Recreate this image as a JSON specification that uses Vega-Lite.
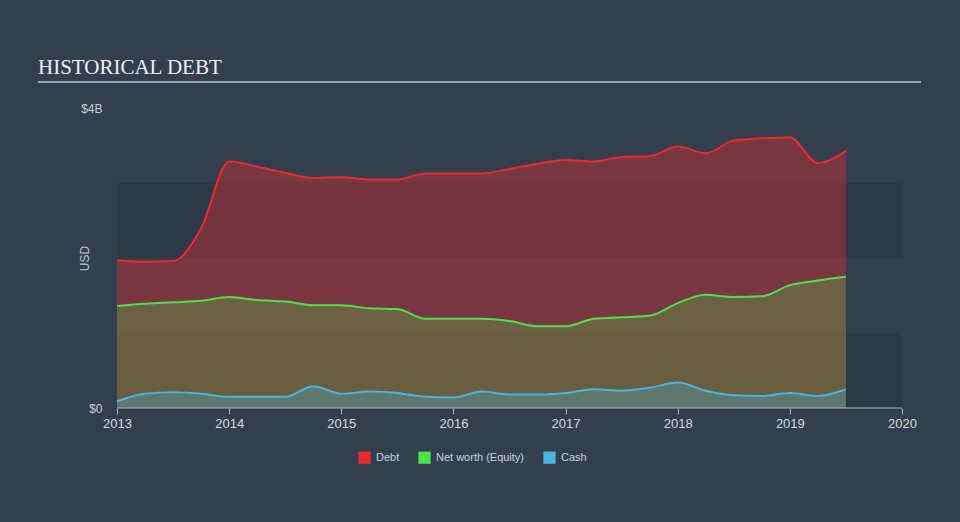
{
  "$schema": "https://vega.github.io/schema/vega-lite/v6.json",
  "width": 883,
  "height": 326,
  "autosize": {"type": "none"},
  "padding": {"left": 38, "top": 82, "right": 39, "bottom": 114},
  "background": "#333f4f",
  "config": {
    "view": {"stroke": null},
    "font": "Liberation Sans",
    "axis": {"grid": false}
  },
  "title": {
    "text": "HISTORICAL DEBT",
    "anchor": "start",
    "frame": "group",
    "font": "Liberation Serif",
    "fontSize": 21,
    "fontWeight": "normal",
    "color": "#eef0f2",
    "baseline": "alphabetic",
    "offset": -14
  },
  "datasets": {
    "fin": [
      {"t": 2013.0, "s": "Debt", "v": 1.97},
      {"t": 2013.25, "s": "Debt", "v": 1.95},
      {"t": 2013.5, "s": "Debt", "v": 1.96},
      {"t": 2013.75, "s": "Debt", "v": 2.4},
      {"t": 2014.0, "s": "Debt", "v": 3.29},
      {"t": 2014.25, "s": "Debt", "v": 3.22},
      {"t": 2014.5, "s": "Debt", "v": 3.14},
      {"t": 2014.75, "s": "Debt", "v": 3.07},
      {"t": 2015.0, "s": "Debt", "v": 3.08},
      {"t": 2015.25, "s": "Debt", "v": 3.05},
      {"t": 2015.5, "s": "Debt", "v": 3.05},
      {"t": 2015.75, "s": "Debt", "v": 3.13},
      {"t": 2016.0, "s": "Debt", "v": 3.13},
      {"t": 2016.25, "s": "Debt", "v": 3.13},
      {"t": 2016.5, "s": "Debt", "v": 3.19},
      {"t": 2016.75, "s": "Debt", "v": 3.26},
      {"t": 2017.0, "s": "Debt", "v": 3.31},
      {"t": 2017.25, "s": "Debt", "v": 3.29},
      {"t": 2017.5, "s": "Debt", "v": 3.35},
      {"t": 2017.75, "s": "Debt", "v": 3.36},
      {"t": 2018.0, "s": "Debt", "v": 3.49},
      {"t": 2018.25, "s": "Debt", "v": 3.40},
      {"t": 2018.5, "s": "Debt", "v": 3.57},
      {"t": 2018.75, "s": "Debt", "v": 3.60},
      {"t": 2019.0, "s": "Debt", "v": 3.61},
      {"t": 2019.25, "s": "Debt", "v": 3.27},
      {"t": 2019.5, "s": "Debt", "v": 3.43},
      {"t": 2013.0, "s": "Net worth (Equity)", "v": 1.36},
      {"t": 2013.25, "s": "Net worth (Equity)", "v": 1.39},
      {"t": 2013.5, "s": "Net worth (Equity)", "v": 1.41},
      {"t": 2013.75, "s": "Net worth (Equity)", "v": 1.43},
      {"t": 2014.0, "s": "Net worth (Equity)", "v": 1.48},
      {"t": 2014.25, "s": "Net worth (Equity)", "v": 1.44},
      {"t": 2014.5, "s": "Net worth (Equity)", "v": 1.42},
      {"t": 2014.75, "s": "Net worth (Equity)", "v": 1.37},
      {"t": 2015.0, "s": "Net worth (Equity)", "v": 1.37},
      {"t": 2015.25, "s": "Net worth (Equity)", "v": 1.33},
      {"t": 2015.5, "s": "Net worth (Equity)", "v": 1.32},
      {"t": 2015.75, "s": "Net worth (Equity)", "v": 1.19},
      {"t": 2016.0, "s": "Net worth (Equity)", "v": 1.19},
      {"t": 2016.25, "s": "Net worth (Equity)", "v": 1.19},
      {"t": 2016.5, "s": "Net worth (Equity)", "v": 1.16},
      {"t": 2016.75, "s": "Net worth (Equity)", "v": 1.09},
      {"t": 2017.0, "s": "Net worth (Equity)", "v": 1.09},
      {"t": 2017.25, "s": "Net worth (Equity)", "v": 1.19},
      {"t": 2017.5, "s": "Net worth (Equity)", "v": 1.21},
      {"t": 2017.75, "s": "Net worth (Equity)", "v": 1.23},
      {"t": 2018.0, "s": "Net worth (Equity)", "v": 1.40},
      {"t": 2018.25, "s": "Net worth (Equity)", "v": 1.51},
      {"t": 2018.5, "s": "Net worth (Equity)", "v": 1.48},
      {"t": 2018.75, "s": "Net worth (Equity)", "v": 1.49},
      {"t": 2019.0, "s": "Net worth (Equity)", "v": 1.64},
      {"t": 2019.25, "s": "Net worth (Equity)", "v": 1.70},
      {"t": 2019.5, "s": "Net worth (Equity)", "v": 1.75},
      {"t": 2013.0, "s": "Cash", "v": 0.09},
      {"t": 2013.25, "s": "Cash", "v": 0.19},
      {"t": 2013.5, "s": "Cash", "v": 0.21},
      {"t": 2013.75, "s": "Cash", "v": 0.19},
      {"t": 2014.0, "s": "Cash", "v": 0.15},
      {"t": 2014.25, "s": "Cash", "v": 0.15},
      {"t": 2014.5, "s": "Cash", "v": 0.15},
      {"t": 2014.75, "s": "Cash", "v": 0.29},
      {"t": 2015.0, "s": "Cash", "v": 0.19},
      {"t": 2015.25, "s": "Cash", "v": 0.22},
      {"t": 2015.5, "s": "Cash", "v": 0.20},
      {"t": 2015.75, "s": "Cash", "v": 0.15},
      {"t": 2016.0, "s": "Cash", "v": 0.14},
      {"t": 2016.25, "s": "Cash", "v": 0.22},
      {"t": 2016.5, "s": "Cash", "v": 0.18},
      {"t": 2016.75, "s": "Cash", "v": 0.18},
      {"t": 2017.0, "s": "Cash", "v": 0.20},
      {"t": 2017.25, "s": "Cash", "v": 0.25},
      {"t": 2017.5, "s": "Cash", "v": 0.23},
      {"t": 2017.75, "s": "Cash", "v": 0.27},
      {"t": 2018.0, "s": "Cash", "v": 0.34},
      {"t": 2018.25, "s": "Cash", "v": 0.23},
      {"t": 2018.5, "s": "Cash", "v": 0.17},
      {"t": 2018.75, "s": "Cash", "v": 0.16},
      {"t": 2019.0, "s": "Cash", "v": 0.20},
      {"t": 2019.25, "s": "Cash", "v": 0.16},
      {"t": 2019.5, "s": "Cash", "v": 0.25}
    ],
    "bands": [
      {"x0": 2013, "x1": 2020, "y0": 0, "y1": 1},
      {"x0": 2013, "x1": 2020, "y0": 2, "y1": 3}
    ],
    "baseline": [
      {"x0": 2013, "x1": 2020, "y0": 0}
    ],
    "underline": [
      {"x0": 2012.2955, "x1": 2020.1697, "y0": 4.35}
    ]
  },
  "layer": [
    {
      "data": {"name": "bands"},
      "mark": {"type": "rect", "color": "#2d3948"},
      "encoding": {
        "x": {"field": "x0", "type": "quantitative", "scale": {"domain": [2012.2955, 2020.1697], "nice": false, "zero": false},
          "axis": {"values": [2013, 2014, 2015, 2016, 2017, 2018, 2019, 2020], "format": "d", "title": null, "domain": false,
            "tickColor": "#a9b4c0", "tickSize": 6, "labelColor": "#d4d9de", "labelFontSize": 13, "labelPadding": 3}},
        "x2": {"field": "x1"},
        "y": {"field": "y0", "type": "quantitative", "scale": {"domain": [0, 4.35], "nice": false},
          "axis": {"values": [0, 4], "labelExpr": "datum.value == 0 ? '$0' : '$' + datum.value + 'B'", "offset": -79,
            "domain": false, "ticks": false, "labelPadding": 15, "labelColor": "#c9cfd6", "labelFontSize": 12,
            "title": "USD", "titleColor": "#c0c7ce", "titleFontSize": 12, "titleFontWeight": "normal",
            "titleX": -33, "titleY": 176, "titleAlign": "center", "titleBaseline": "middle"}},
        "y2": {"field": "y1"}
      }
    },
    {
      "data": {"name": "fin"},
      "transform": [{"filter": "datum.s === 'Debt'"}],
      "mark": {"type": "area", "interpolate": "monotone", "fillOpacity": 0.38},
      "encoding": {
        "x": {"field": "t", "type": "quantitative"},
        "y": {"field": "v", "type": "quantitative", "stack": null},
        "color": {"field": "s", "type": "nominal",
          "scale": {"domain": ["Debt", "Net worth (Equity)", "Cash"], "range": ["#ec2a2e", "#4be04c", "#47b5dc"]},
          "legend": {"orient": "none", "legendX": 320, "legendY": 369, "direction": "horizontal", "title": null,
            "symbolType": "square", "symbolSize": 150, "symbolOpacity": 1, "symbolStrokeWidth": 0,
            "labelColor": "#c9cfd6", "labelFontSize": 11, "labelOffset": 5, "columnPadding": 18}}
      }
    },
    {
      "data": {"name": "fin"},
      "transform": [{"filter": "datum.s === 'Net worth (Equity)'"}],
      "mark": {"type": "area", "interpolate": "monotone", "fillOpacity": 0.25},
      "encoding": {
        "x": {"field": "t", "type": "quantitative"},
        "y": {"field": "v", "type": "quantitative", "stack": null},
        "color": {"field": "s", "type": "nominal"}
      }
    },
    {
      "data": {"name": "fin"},
      "transform": [{"filter": "datum.s === 'Cash'"}],
      "mark": {"type": "area", "interpolate": "monotone", "fillOpacity": 0.3},
      "encoding": {
        "x": {"field": "t", "type": "quantitative"},
        "y": {"field": "v", "type": "quantitative", "stack": null},
        "color": {"field": "s", "type": "nominal"}
      }
    },
    {
      "data": {"name": "fin"},
      "mark": {"type": "line", "interpolate": "monotone", "strokeWidth": 2},
      "encoding": {
        "x": {"field": "t", "type": "quantitative"},
        "y": {"field": "v", "type": "quantitative"},
        "color": {"field": "s", "type": "nominal"}
      }
    },
    {
      "data": {"name": "baseline"},
      "mark": {"type": "rule", "color": "#a9b4c0", "strokeWidth": 1},
      "encoding": {
        "x": {"field": "x0", "type": "quantitative"},
        "x2": {"field": "x1"},
        "y": {"field": "y0", "type": "quantitative"}
      }
    },
    {
      "data": {"name": "underline"},
      "mark": {"type": "rule", "color": "#9ea4ab", "strokeWidth": 2},
      "encoding": {
        "x": {"field": "x0", "type": "quantitative"},
        "x2": {"field": "x1"},
        "y": {"field": "y0", "type": "quantitative"}
      }
    }
  ]
}
